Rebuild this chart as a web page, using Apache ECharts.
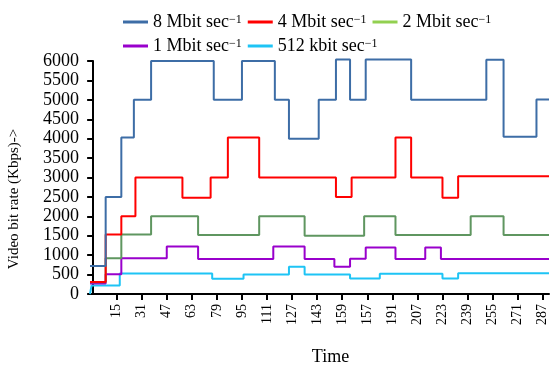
<!DOCTYPE html>
<html>
<head>
<meta charset="utf-8">
<script src="https://cdn.jsdelivr.net/npm/echarts@6/dist/echarts.min.js"></script>
<style>
  html, body { margin: 0; padding: 0; background: #fff; }
  #chart { width: 550px; height: 370px; }
</style>
</head>
<body>
<div id="chart"></div>
<script>
// tick positions on the time axis and the labels printed under them (sic, "157")
var timeTicks = [15, 31, 47, 63, 79, 95, 111, 127, 143, 159, 175, 191, 207, 223, 239, 255, 271, 287];
var timeLabels = ['15', '31', '47', '63', '79', '95', '111', '127', '143', '159', '157', '191', '207', '223', '239', '255', '271', '287'];
var endTime = 291;

var seriesNames = ['8 Mbit sec', '4 Mbit sec', '2 Mbit sec', '1 Mbit sec', '512 kbit sec'];

// each series: time where a level starts, and the level (Kbps)
var rate8Time = [-2, 8, 18, 26, 37, 77, 95, 116, 125, 144, 155, 164, 174, 203, 251, 262, 283];
var rate8Val = [720, 2500, 4030, 5000, 6000, 5000, 6000, 5000, 4000, 5000, 6040, 5000, 6040, 5000, 6030, 4050, 5010];

var rate4Time = [-2, 8, 18, 27, 57, 75, 86, 106, 155, 165, 193, 203, 223, 233];
var rate4Val = [310, 1530, 2000, 3000, 2480, 3000, 4030, 3000, 2500, 3000, 4030, 3000, 2480, 3030];

var rate2Time = [-2, 8, 18, 37, 67, 106, 135, 173, 193, 241, 262];
var rate2Val = [300, 920, 1530, 2000, 1520, 2000, 1500, 2000, 1520, 2000, 1520];

var rate1Time = [-2, 8, 18, 47, 67, 115, 135, 154, 164, 174, 193, 212, 222];
var rate1Val = [270, 510, 920, 1220, 900, 1220, 900, 700, 910, 1200, 900, 1200, 900];

var rate512Time = [-2, -1, 17, 76, 96, 125, 135, 164, 183, 223, 233];
var rate512Val = [0, 220, 525, 390, 505, 700, 500, 400, 520, 400, 535];

var lineColors = ['#3d6da6', '#ff0000', '#5f9660', '#9900cc', '#1ec4f5'];
var legendColors = ['#3d6da6', '#ff0000', '#92d050', '#9900cc', '#1ec4f5'];

function steps(times, vals) {
  var pts = times.map(function (t, i) { return [t, vals[i]]; });
  pts.push([endTime, vals[vals.length - 1]]);
  return pts;
}

var allData = [
  steps(rate8Time, rate8Val),
  steps(rate4Time, rate4Val),
  steps(rate2Time, rate2Val),
  steps(rate1Time, rate1Val),
  steps(rate512Time, rate512Val)
];

var font = '"Liberation Serif", "Times New Roman", serif';

var chart = echarts.init(document.getElementById('chart'));
chart.setOption({
  animation: false,
  backgroundColor: '#fff',
  textStyle: { fontFamily: font, color: '#000' },
  legend: {
    left: 118,
    top: 8,
    width: 400,
    itemWidth: 25,
    itemHeight: 3,
    itemGap: 6,
    icon: 'rect',
    data: seriesNames.map(function (n, i) {
      return { name: n, itemStyle: { color: legendColors[i] } };
    }),
    formatter: function (name) { return '{n|' + name + '}{s|\u22121}'; },
    textStyle: {
      fontFamily: font,
      rich: {
        n: { fontSize: 18, fontFamily: font, color: '#000', lineHeight: 17 },
        s: { fontSize: 12, fontFamily: font, color: '#000', verticalAlign: 'top', lineHeight: 12 }
      }
    }
  },
  grid: { left: 90, right: 1, top: 61, bottom: 76, outerBoundsMode: 'none', containLabel: false },
  xAxis: {
    type: 'value',
    min: -2,
    max: endTime,
    splitLine: { show: false },
    axisLine: { lineStyle: { color: '#000', width: 2 } },
    axisTick: { customValues: timeTicks, length: 6, lineStyle: { color: '#000', width: 2 } },
    axisLabel: {
      customValues: timeTicks,
      rotate: 90,
      margin: 10,
      fontSize: 14,
      fontFamily: font,
      color: '#000',
      formatter: function (v) { return timeLabels[timeTicks.indexOf(v)]; }
    },
    name: 'Time',
    nameLocation: 'middle',
    nameGap: 54,
    nameTextStyle: { fontSize: 18, fontFamily: font, color: '#000', padding: [0, 0, 0, 22] }
  },
  yAxis: {
    type: 'value',
    min: 0,
    max: 6000,
    interval: 500,
    splitLine: { show: false },
    axisLine: { show: true, lineStyle: { color: '#000', width: 2 } },
    axisTick: { show: true, length: 6, lineStyle: { color: '#000', width: 2 } },
    axisLabel: {
      fontSize: 18, fontFamily: font, color: '#000', margin: 11,
      formatter: function (v) { return String(v); }
    }
  },
  graphic: [{
    type: 'text',
    x: 14,
    y: 199,
    rotation: Math.PI / 2,
    style: {
      text: 'Video bit rate (Kbps)->',
      fontSize: 15,
      fontFamily: font,
      fill: '#000',
      align: 'center',
      verticalAlign: 'middle'
    }
  }],
  series: seriesNames.map(function (n, i) {
    return {
      name: n,
      type: 'line',
      step: 'end',
      clip: false,
      showSymbol: false,
      symbol: 'none',
      data: allData[i],
      z: 10 - i,
      lineStyle: { color: lineColors[i], width: 2 },
      itemStyle: { color: lineColors[i] }
    };
  })
});
</script>
</body>
</html>
